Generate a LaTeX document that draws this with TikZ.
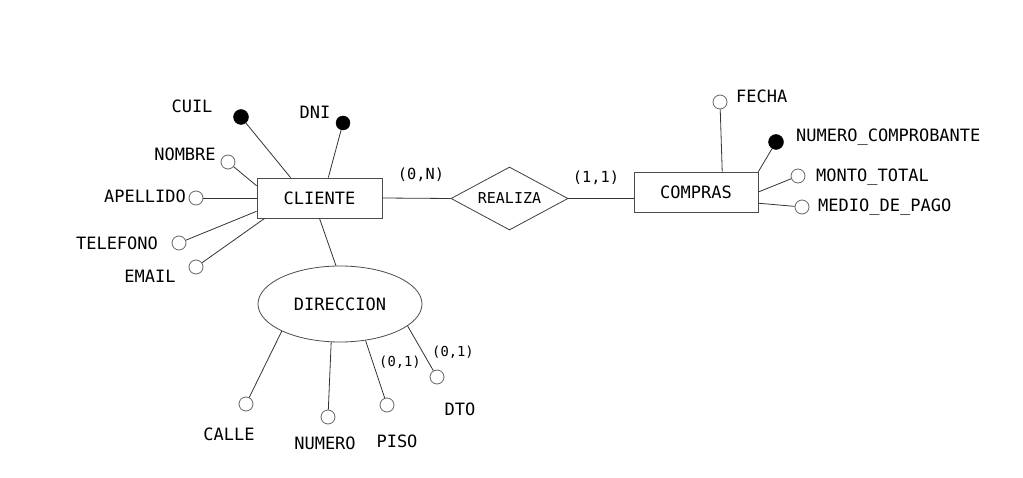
\documentclass[tikz,border=0pt]{standalone}
\usepackage{fontspec}
\setmainfont{DejaVu Sans Mono}
\newfontfamily\cardfont{DejaVu Sans Mono}
\usetikzlibrary{shapes.geometric,calc}
\tikzset{
  conn/.style={draw=black!80, line width=0.8pt},
  entity/.style={draw=black!70, line width=0.8pt, rectangle, minimum width=125pt, minimum height=40pt, inner sep=0pt, font=\fontsize{17}{19}\selectfont},
  relation/.style={draw=black!75, line width=0.8pt, diamond, aspect=1.857, minimum width=117pt, minimum height=63pt, inner sep=0pt, font=\fontsize{15}{17}\selectfont},
  composite/.style={draw=black!70, line width=0.8pt, ellipse, minimum width=164pt, minimum height=76pt, inner sep=0pt, font=\fontsize{17}{19}\selectfont},
  attr/.style={draw=black!60, line width=0.8pt, circle, minimum size=14pt, inner sep=0pt},
  keyattr/.style={draw=black, fill=black, circle, minimum size=15pt, inner sep=0pt},
  lbl/.style={inner sep=0pt, font=\fontsize{17}{19}\selectfont},
  card/.style={inner sep=0pt, font=\cardfont\fontsize{15.3}{17}\selectfont},
  cardsm/.style={inner sep=0pt, font=\cardfont\fontsize{13.8}{15}\selectfont}
}
\begin{document}
\begin{tikzpicture}[x=1pt,y=-1pt]
\useasboundingbox[fill=white] (0,0) rectangle (1023,478);
% main nodes
\node[entity] (cliente) at (319.5,198) {CLIENTE};
\node[relation] (realiza) at (509.5,198.5) {REALIZA};
\node[entity, minimum width=124pt] (compras) at (696,192) {COMPRAS};
\node[composite] (direccion) at (340,304) {DIRECCION};
% cliente attributes
\node[keyattr] (cuil) at (241,117) {};
\node[keyattr, minimum size=14pt] (dni) at (343,123) {};
\node[attr] (nombre) at (228,162) {};
\node[attr] (apellido) at (196,198) {};
\node[attr] (telefono) at (179,243) {};
\node[attr] (email) at (196,267) {};
\node[lbl] (cuillbl) at (192,106) {CUIL};
\node[lbl] (dnilbl) at (315,112) {DNI};
\node[lbl] (nombrelbl) at (185,154) {NOMBRE};
\node[lbl] (apellidolbl) at (145,196) {APELLIDO};
\node[lbl] (telefonolbl) at (117,243) {TELEFONO};
\node[lbl] (emaillbl) at (150,276) {EMAIL};
% direccion attributes
\node[attr] (calle) at (246,404) {};
\node[attr] (numero) at (328,417) {};
\node[attr] (piso) at (387,405) {};
\node[attr] (dto) at (437,377) {};
\node[lbl] (callelbl) at (229,434) {CALLE};
\node[lbl] (numerolbl) at (325,443) {NUMERO};
\node[lbl] (pisolbl) at (397,441) {PISO};
\node[lbl] (dtolbl) at (460,409) {DTO};
% compras attributes
\node[attr] (fecha) at (720,102) {};
\node[keyattr] (numcomp) at (776,142) {};
\node[attr] (monto) at (798,176) {};
\node[attr] (medio) at (802,207) {};
\node[lbl, anchor=west] (fechalbl) at (736,96) {FECHA};
\node[lbl, anchor=west] (numcomplbl) at (796,137) {NUMERO\_COMPROBANTE};
\node[lbl, anchor=west] (montolbl) at (816,177) {MONTO\_TOTAL};
\node[lbl, anchor=west] (mediolbl) at (818,207) {MEDIO\_DE\_PAGO};
% cardinalities
\node[card] (c0n) at (421,175) {(0,N)};
\node[card] (c11) at (596,178) {(1,1)};
\node[cardsm] (c01a) at (400,362) {(0,1)};
\node[cardsm] (c01b) at (453,352) {(0,1)};
% anchor coordinates
\coordinate (cA) at ($(cliente.north west)!0.27!(cliente.north east)$);
\coordinate (cB) at ($(cliente.north west)!0.57!(cliente.north east)$);
\coordinate (cC) at ($(cliente.north west)!0.2!(cliente.south west)$);
\coordinate (cD) at ($(cliente.north west)!0.825!(cliente.south west)$);
\coordinate (cE) at ($(cliente.south west)!0.064!(cliente.south east)$);
\coordinate (pA) at ($(compras.north west)!0.71!(compras.north east)$);
\coordinate (pB) at ($(compras.north east)!0.775!(compras.south east)$);
% connectors
\draw[conn] (cuil) -- (cA);
\draw[conn] (dni) -- (cB);
\draw[conn] (nombre) -- (cC);
\draw[conn] (apellido) -- (cliente.west);
\draw[conn] (telefono) -- (cD);
\draw[conn] (email) -- (cE);
\draw[conn] (cliente.south) -- (direccion.96);
\draw[conn] (direccion.205) -- (calle);
\draw[conn] (direccion.257) -- (numero);
\draw[conn] (direccion.305) -- (piso);
\draw[conn] (direccion.342.6) -- (dto);
\draw[conn] (cliente.east) -- (realiza.west);
\draw[conn] (realiza.east) -- (realiza.east -| compras.west);
\draw[conn] (fecha) -- (pA);
\draw[conn] (numcomp) -- (compras.north east);
\draw[conn] (monto) -- (compras.east);
\draw[conn] (medio) -- (pB);
\end{tikzpicture}
\end{document}
